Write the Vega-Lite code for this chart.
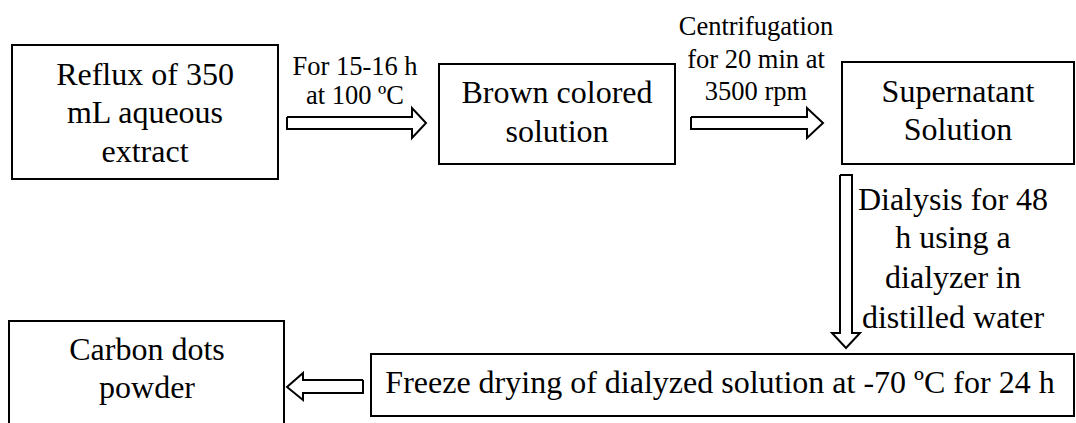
{
  "$schema": "https://vega.github.io/schema/vega-lite/v6.json",
  "width": 1076,
  "height": 423,
  "padding": 0,
  "autosize": {"type": "fit", "contains": "padding", "resize": true},
  "background": "white",
  "config": {"view": {"stroke": null}, "text": {"font": "Times New Roman"}},
  "datasets": {
    "boxes": [
      {"id": "b1", "x": 12, "x2": 278, "y": 45, "y2": 179},
      {"id": "b2", "x": 439, "x2": 675, "y": 64, "y2": 164},
      {"id": "b3", "x": 842, "x2": 1074, "y": 62, "y2": 164},
      {"id": "b4", "x": 371, "x2": 1074, "y": 354, "y2": 416},
      {"id": "b5", "x": 9, "x2": 284, "y": 321, "y2": 430}
    ],
    "arrows": [
      {"a": "a1", "i": 0, "x": 287, "y": 117},
      {"a": "a1", "i": 1, "x": 412, "y": 117},
      {"a": "a1", "i": 2, "x": 412, "y": 108},
      {"a": "a1", "i": 3, "x": 426, "y": 123},
      {"a": "a1", "i": 4, "x": 412, "y": 138},
      {"a": "a1", "i": 5, "x": 412, "y": 129},
      {"a": "a1", "i": 6, "x": 287, "y": 129},
      {"a": "a1", "i": 7, "x": 287, "y": 117},
      {"a": "a2", "i": 0, "x": 691, "y": 117},
      {"a": "a2", "i": 1, "x": 807, "y": 117},
      {"a": "a2", "i": 2, "x": 807, "y": 108},
      {"a": "a2", "i": 3, "x": 823, "y": 123},
      {"a": "a2", "i": 4, "x": 807, "y": 138},
      {"a": "a2", "i": 5, "x": 807, "y": 129},
      {"a": "a2", "i": 6, "x": 691, "y": 129},
      {"a": "a2", "i": 7, "x": 691, "y": 117},
      {"a": "a3", "i": 0, "x": 840, "y": 175},
      {"a": "a3", "i": 1, "x": 852, "y": 175},
      {"a": "a3", "i": 2, "x": 852, "y": 333},
      {"a": "a3", "i": 3, "x": 860, "y": 333},
      {"a": "a3", "i": 4, "x": 846, "y": 348},
      {"a": "a3", "i": 5, "x": 832, "y": 333},
      {"a": "a3", "i": 6, "x": 840, "y": 333},
      {"a": "a3", "i": 7, "x": 840, "y": 175},
      {"a": "a4", "i": 0, "x": 363, "y": 380},
      {"a": "a4", "i": 1, "x": 303, "y": 380},
      {"a": "a4", "i": 2, "x": 303, "y": 373},
      {"a": "a4", "i": 3, "x": 287, "y": 387},
      {"a": "a4", "i": 4, "x": 303, "y": 400},
      {"a": "a4", "i": 5, "x": 303, "y": 393},
      {"a": "a4", "i": 6, "x": 363, "y": 393},
      {"a": "a4", "i": 7, "x": 363, "y": 380}
    ],
    "labels": [
      {"kind": "box", "text": "Reflux of 350", "x": 145, "y": 85},
      {"kind": "box", "text": "mL aqueous", "x": 145, "y": 123},
      {"kind": "box", "text": "extract", "x": 145, "y": 162},
      {"kind": "box", "text": "Brown colored", "x": 557, "y": 103},
      {"kind": "box", "text": "solution", "x": 557, "y": 142},
      {"kind": "box", "text": "Supernatant", "x": 958, "y": 102},
      {"kind": "box", "text": "Solution", "x": 958, "y": 140},
      {"kind": "box", "text": "Freeze drying of dialyzed solution at -70 ºC for 24 h", "x": 720, "y": 393},
      {"kind": "box", "text": "Carbon dots", "x": 147, "y": 360},
      {"kind": "box", "text": "powder", "x": 147, "y": 398},
      {"kind": "box", "text": "Dialysis for 48", "x": 953, "y": 210},
      {"kind": "box", "text": "h using a", "x": 953, "y": 248},
      {"kind": "box", "text": "dialyzer in", "x": 953, "y": 288},
      {"kind": "box", "text": "distilled water", "x": 953, "y": 328},
      {"kind": "note", "text": "For 15-16 h", "x": 355, "y": 75},
      {"kind": "note", "text": "at 100 ºC", "x": 355, "y": 104},
      {"kind": "note", "text": "Centrifugation", "x": 756, "y": 35},
      {"kind": "note", "text": "for 20 min at", "x": 756, "y": 68},
      {"kind": "note", "text": "3500 rpm", "x": 756, "y": 100}
    ]
  },
  "encoding": {
    "x": {"field": "x", "type": "quantitative", "scale": {"domain": [0, 1076], "nice": false, "zero": false}, "axis": null},
    "y": {"field": "y", "type": "quantitative", "scale": {"domain": [0, 423], "nice": false, "zero": false, "reverse": true}, "axis": null}
  },
  "layer": [
    {
      "data": {"name": "boxes"},
      "mark": {"type": "rect", "fill": null, "stroke": "black", "strokeWidth": 2, "clip": true},
      "encoding": {
        "x2": {"field": "x2"},
        "y2": {"field": "y2"}
      }
    },
    {
      "data": {"name": "arrows"},
      "mark": {"type": "line", "color": "black", "strokeWidth": 2, "strokeJoin": "miter", "clip": true},
      "encoding": {
        "detail": {"field": "a", "type": "nominal"},
        "order": {"field": "i", "type": "quantitative"}
      }
    },
    {
      "data": {"name": "labels"},
      "transform": [{"filter": "datum.kind === 'box'"}],
      "mark": {"type": "text", "font": "Times New Roman", "fontSize": 32, "baseline": "alphabetic", "align": "center", "color": "black"},
      "encoding": {"text": {"field": "text", "type": "nominal"}}
    },
    {
      "data": {"name": "labels"},
      "transform": [{"filter": "datum.kind === 'note'"}],
      "mark": {"type": "text", "font": "Times New Roman", "fontSize": 26.5, "baseline": "alphabetic", "align": "center", "color": "black"},
      "encoding": {"text": {"field": "text", "type": "nominal"}}
    }
  ]
}
